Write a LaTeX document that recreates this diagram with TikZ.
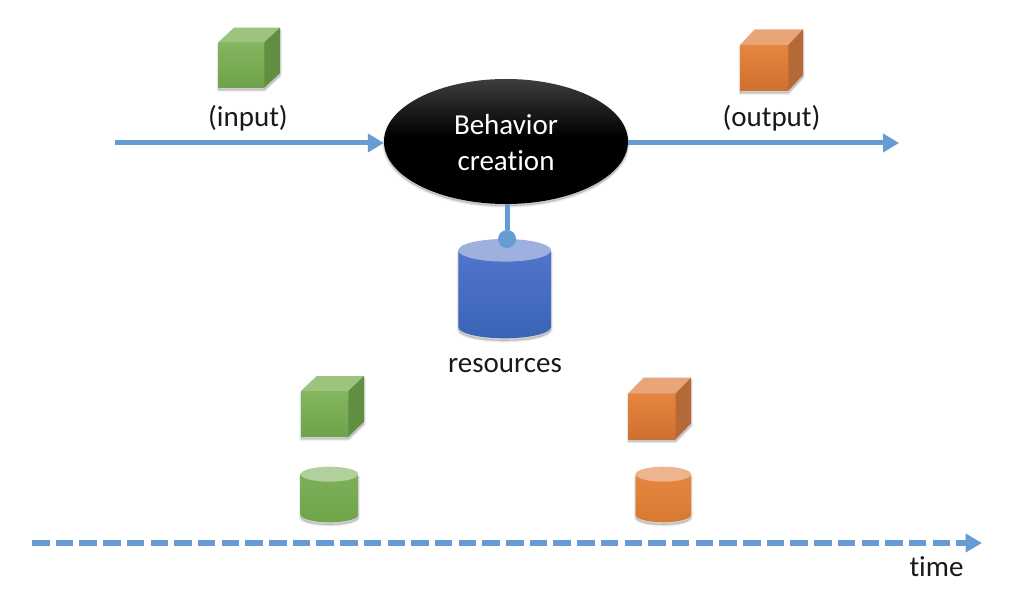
\documentclass[tikz,border=0pt]{standalone}
\usepackage{fontspec}
\setmainfont[Ligatures=NoCommon]{Carlito}
\usetikzlibrary{arrows.meta,shapes.geometric}
\definecolor{linkblue}{HTML}{669BD3}
\definecolor{gfrontA}{HTML}{84B55F}\definecolor{gfrontB}{HTML}{6EA349}
\definecolor{gtop}{HTML}{9DC47F}\definecolor{gside}{HTML}{618F42}
\definecolor{ofrontA}{HTML}{E5853F}\definecolor{ofrontB}{HTML}{CF7030}
\definecolor{otop}{HTML}{E8A678}\definecolor{oside}{HTML}{B36A36}
\definecolor{bbodyA}{HTML}{5076CC}\definecolor{bbodyB}{HTML}{3A63B6}
\definecolor{btop}{HTML}{9EB0DD}
\definecolor{gctop}{HTML}{B2D09C}\definecolor{octop}{HTML}{EDB490}
\definecolor{gcA}{HTML}{7DB058}\definecolor{gcB}{HTML}{6FA44B}
\definecolor{ocA}{HTML}{E6863F}\definecolor{ocB}{HTML}{D87932}
\pgfdeclareverticalshading{ellshade}{100bp}{color(0bp)=(black); color(52bp)=(black); color(75bp)=(black!76!white); color(100bp)=(black!76!white)}
\tikzset{
  label text/.style={font=\fontsize{29}{33}\selectfont,text=black!90,inner sep=0pt,anchor=center},
  link/.style={draw=linkblue,line width=5pt},
  arrowed/.style={link,-{Triangle[length=16pt,width=18pt]}},
  behavior/.style={ellipse,minimum width=244pt,minimum height=125pt,inner sep=0pt,shading=ellshade,
    text=white,align=center,font=\fontsize{29}{36}\selectfont},
  dotnode/.style={circle,fill=linkblue,minimum size=18pt,inner sep=0pt},
}
% soft shadow of a closed path
\newcommand{\softshadow}[1]{%
  \foreach \w in {3.5,2,0.8}{%
    \path[fill=black,draw=black,fill opacity=.05,draw opacity=.05,line width=\w pt,line join=round,shift={(0,2.5)}] #1;}%
}
% \cubeshape{left}{top}{right}{bottom}{back right}{back top}{front A}{front B}{top}{side}
\newcommand{\cubeshape}[9]{\cubeshapeb{#1}{#2}{#3}{#4}{#5}{#6}{#7}{#8}{#9}}
\newcommand{\cubeshapeb}[9]{\def\cL{#1}\def\cT{#2}\def\cR{#3}\def\cB{#4}\def\cXb{#5}\def\cYb{#6}\def\cFa{#7}\def\cFb{#8}\def\cTp{#9}\cubeshapec}
\newcommand{\cubeshapec}[1]{%
  \pgfmathsetmacro\cdx{\cXb-\cR}\pgfmathsetmacro\cdy{\cT-\cYb}%
  \softshadow{(\cL,\cT) -- (\cL+\cdx,\cYb) -- (\cXb,\cYb) -- (\cXb,\cB-\cdy) -- (\cR,\cB) -- (\cL,\cB) -- cycle}%
  \shade[top color=\cFa,bottom color=\cFb] (\cL,\cT) rectangle (\cR,\cB);
  \fill[\cTp] (\cL,\cT) -- (\cL+\cdx,\cYb) -- (\cXb,\cYb) -- (\cR,\cT) -- cycle;
  \fill[#1] (\cR,\cT) -- (\cXb,\cYb) -- (\cXb,\cB-\cdy) -- (\cR,\cB) -- cycle;
}
% \cyl{left}{right}{top y}{ry}{bottom y}{body A}{body B}{top colour}
\newcommand{\cyl}[8]{%
  \pgfmathsetmacro\cc{(#1+#2)/2}\pgfmathsetmacro\crx{(#2-#1)/2}%
  \pgfmathsetmacro\cyt{#3+#4}\pgfmathsetmacro\cyb{#5-#4}%
  \softshadow{(#1,\cyt) -- (#1,\cyb) arc[start angle=180,end angle=360,x radius=\crx,y radius=-#4] -- (#2,\cyt) -- cycle}%
  \shade[top color=#6,bottom color=#7] (#1,\cyt) -- (#1,\cyb) arc[start angle=180,end angle=360,x radius=\crx,y radius=-#4] -- (#2,\cyt) -- cycle;
  \fill[#8] (\cc,\cyt) ellipse[x radius=\crx,y radius=#4];
}
\begin{document}
\begin{tikzpicture}[x=1pt,y=-1pt]
\useasboundingbox (0,0) rectangle (1024,593);
\fill[white] (0,0) rectangle (1024,593);

% cubes
\cubeshape{218.3}{42.3}{264.3}{87.7}{280}{27.7}{gfrontA}{gfrontB}{gtop}{gside}
\cubeshape{740}{45}{788.3}{90.7}{803}{29.3}{ofrontA}{ofrontB}{otop}{oside}
\cubeshape{301}{391}{348.3}{436.7}{364}{376}{gfrontA}{gfrontB}{gtop}{gside}
\cubeshape{628.3}{393.3}{675.7}{439}{691}{377.7}{ofrontA}{ofrontB}{otop}{oside}

% cylinders
\cyl{458.3}{551}{239}{11.3}{338.3}{bbodyA}{bbodyB}{btop}
\cyl{300.7}{358.3}{466.7}{7.5}{522.3}{gcA}{gcB}{gctop}
\cyl{635.7}{691}{466.7}{7.5}{522.3}{ocA}{ocB}{octop}

% shadow below the ellipse
\foreach \w in {3.5,2,0.8}{
  \path[fill=black,draw=black,fill opacity=.05,draw opacity=.05,line width=\w pt] (506,143.5) ellipse[x radius=122,y radius=62.5];}
\node[behavior,text depth=0pt] (core) at (506,141.5) {\raisebox{-1pt}{Behavior}\\\raisebox{-1pt}{creation}};

% labels
\node[label text] (input) at (248,118.5) {(input)};
\node[label text] (output) at (771.5,118.5) {(output)};
\node[label text] (res) at (505,365.5) {resources};
\node[label text] (time) at (936.5,566.5) {time};

% connectors
\coordinate (inS) at (115,143);
\coordinate (outE) at (899,143);
\coordinate (tS) at (32,543);
\coordinate (tE) at (982,543);
\node[dotnode] (dot) at (507,239) {};
\draw[link] (core.south -| dot) -- (dot);
\draw[arrowed] (inS) -- (inS -| core.west);
\draw[arrowed] (outE -| core.east) -- (outE);
\draw[link,line width=5.5pt,dash pattern=on 17.5pt off 6.2pt,-{Triangle[length=16.5pt,width=18pt]}] (tS) -- (tE);
\end{tikzpicture}
\end{document}
